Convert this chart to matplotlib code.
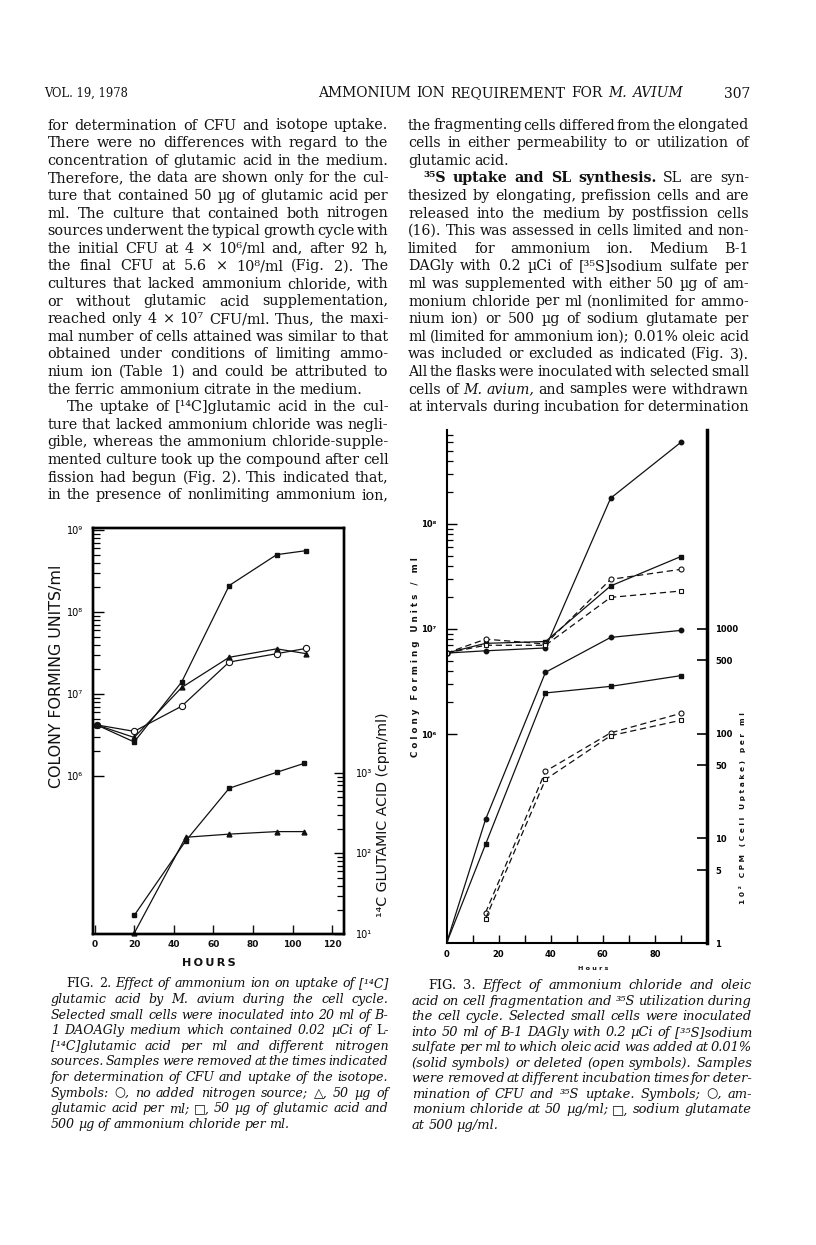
import matplotlib
matplotlib.use("Agg")
import matplotlib.pyplot as plt
from matplotlib.ticker import NullFormatter

plt.rcParams['font.family'] = ['DejaVu Serif', 'DejaVu Sans']
INK = '#111111'
W, H = 816, 1245

# Fig. 2 values
f2_cfu_hours = [1, 20, 44, 68, 92, 107]
f2_cfu_none = [4.2e6, 3.5e6, 7.1e6, 2.45e7, 3.1e7, 3.6e7]    # open circles
f2_cfu_glu = [4.2e6, 2.95e6, 1.2e7, 2.8e7, 3.55e7, 3.1e7]    # triangles
f2_cfu_both = [4.2e6, 2.6e6, 1.4e7, 2.1e8, 5.0e8, 5.6e8]     # squares
f2_upt_hours = [20, 46, 68, 92, 106]
f2_upt_glu = [10.2, 159, 174, 187, 187]
f2_upt_both = [17, 143, 646, 1020, 1320]
f2_xticks = [0, 20, 40, 60, 80, 100, 120]

# Fig. 3 values
f3_hours = [0, 15, 38, 63, 90]
f3_cfu_nh4_ol = [5.9e6, 6.2e6, 6.6e6, 1.76e8, 6.0e8]
f3_cfu_glu_ol = [5.9e6, 7.3e6, 7.6e6, 2.57e7, 4.9e7]
f3_cfu_nh4 = [5.9e6, 8.0e6, 7.2e6, 2.97e7, 3.7e7]
f3_cfu_glu = [5.9e6, 7.0e6, 7.0e6, 2.0e7, 2.3e7]
f3_upt_nh4_ol = [1, 15.2, 384, 826, 964]
f3_upt_glu_ol = [1, 8.8, 244, 282, 357]
f3_open_hours = [15, 38, 63, 90]
f3_upt_nh4 = [1.96, 43.7, 101.6, 156]
f3_upt_glu = [1.72, 36.5, 95.5, 134]
f3_rticks = [1, 5, 10, 50, 100, 500, 1000]

# page text: "~" flips italic, "^" makes bold
left_col = [
    "for determination of CFU and isotope uptake.",
    "There were no differences with regard to the",
    "concentration of glutamic acid in the medium.",
    "Therefore, the data are shown only for the cul-",
    "ture that contained 50 µg of glutamic acid per",
    "ml. The culture that contained both nitrogen",
    "sources underwent the typical growth cycle with",
    "the initial CFU at 4 × 10⁶/ml and, after 92 h,",
    "the final CFU at 5.6 × 10⁸/ml (Fig. 2). The",
    "cultures that lacked ammonium chloride, with",
    "or without glutamic acid supplementation,",
    "reached only 4 × 10⁷ CFU/ml. Thus, the maxi-",
    "mal number of cells attained was similar to that",
    "obtained under conditions of limiting ammo-",
    "nium ion (Table 1) and could be attributed to",
    "the ferric ammonium citrate in the medium.",
    "The uptake of [¹⁴C]glutamic acid in the cul-",
    "ture that lacked ammonium chloride was negli-",
    "gible, whereas the ammonium chloride-supple-",
    "mented culture took up the compound after cell",
    "fission had begun (Fig. 2). This indicated that,",
    "in the presence of nonlimiting ammonium ion,",
]
left_last = {15}
left_indent = {16}

right_col = [
    "the fragmenting cells differed from the elongated",
    "cells in either permeability to or utilization of",
    "glutamic acid.",
    "^³⁵S ^uptake ^and ^SL ^synthesis. SL are syn-",
    "thesized by elongating, prefission cells and are",
    "released into the medium by postfission cells",
    "(16). This was assessed in cells limited and non-",
    "limited for ammonium ion. Medium B-1",
    "DAGly with 0.2 µCi of [³⁵S]sodium sulfate per",
    "ml was supplemented with either 50 µg of am-",
    "monium chloride per ml (nonlimited for ammo-",
    "nium ion) or 500 µg of sodium glutamate per",
    "ml (limited for ammonium ion); 0.01% oleic acid",
    "was included or excluded as indicated (Fig. 3).",
    "All the flasks were inoculated with selected small",
    "cells of ~M. ~avium, and samples were withdrawn",
    "at intervals during incubation for determination",
]
right_last = {2}
right_indent = {3}

cap2 = [
    "~FIG. ~2. Effect of ammonium ion on uptake of [¹⁴C]",
    "glutamic acid by M. avium during the cell cycle.",
    "Selected small cells were inoculated into 20 ml of B-",
    "1 DAOAGly medium which contained 0.02 µCi of ~L-",
    "[¹⁴C]glutamic acid per ml and different nitrogen",
    "sources. Samples were removed at the times indicated",
    "for determination of CFU and uptake of the isotope.",
    "Symbols: ○, no added nitrogen source; △, 50 µg of",
    "glutamic acid per ml; □, 50 µg of glutamic acid and",
    "500 µg of ammonium chloride per ml.",
]
cap3 = [
    "~FIG. ~3. Effect of ammonium chloride and oleic",
    "acid on cell fragmentation and ³⁵S utilization during",
    "the cell cycle. Selected small cells were inoculated",
    "into 50 ml of B-1 DAGly with 0.2 µCi of [³⁵S]sodium",
    "sulfate per ml to which oleic acid was added at 0.01%",
    "(solid symbols) or deleted (open symbols). Samples",
    "were removed at different incubation times for deter-",
    "mination of CFU and ³⁵S uptake. Symbols; ○, am-",
    "monium chloride at 50 µg/ml; □, sodium glutamate",
    "at 500 µg/ml.",
]

fig = plt.figure(figsize=(W / 100, H / 100), dpi=100)
fig.patch.set_facecolor('white')
rend = fig.canvas.get_renderer()


def tokens(line, italic):
    out = []
    for w in line.split(' '):
        it, bd = italic, False
        while w[:1] in ('~', '^'):
            if w[0] == '~':
                it = not it
            else:
                bd = True
            w = w[1:]
        out.append((w, it, bd))
    return out


def make_words(toks, y, size):
    objs = [fig.text(0, 1 - y / H, w, fontsize=size, color=INK,
                     style='italic' if it else 'normal',
                     weight='bold' if bd else 'normal', va='baseline', ha='left')
            for w, it, bd in toks]
    return objs, [t.get_window_extent(rend).width for t in objs]


def block(lines, x0s, x1, ys, size, italic=False, last=(), min_gap=0.5):
    # one font size for the whole block: the largest that lets every line fit
    best = size
    for line, x0, y in zip(lines, x0s, ys):
        objs, ws = make_words(tokens(line, italic), y, size)
        for t in objs:
            t.remove()
        space = size * 100 / 72 * 0.27
        need = sum(ws) + (len(ws) - 1) * space * min_gap
        best = min(best, size * (x1 - x0) / need)
    for i, (line, x0, y) in enumerate(zip(lines, x0s, ys)):
        objs, ws = make_words(tokens(line, italic), y, best)
        gap = best * 100 / 72 * 0.27
        if i not in last and len(objs) > 1:
            gap = (x1 - x0 - sum(ws)) / (len(objs) - 1)
        x = x0
        for t, w in zip(objs, ws):
            t.set_x(x / W)
            x += w + gap


def fit_text(t, target, vertical=False):
    bb = t.get_window_extent(rend)
    cur = bb.height if vertical else bb.width
    t.set_fontsize(t.get_fontsize() * target / cur)


# header
fig.text(44 / W, 1 - 97 / H, "VOL. 19, 1978", fontsize=8.3, color=INK, va='baseline')
block(["AMMONIUM ION REQUIREMENT FOR ~M. ~AVIUM"], [318], 683, [97], 10)
fig.text(724 / W, 1 - 97.5 / H, "307", fontsize=10, color=INK, va='baseline')

# body columns
block(left_col, [66.5 if i in left_indent else 47.5 for i in range(len(left_col))], 388.5,
      [125 + 17.6 * i + 4.5 for i in range(len(left_col))], 10.6, last=left_last)
block(right_col, [423 if i in right_indent else 408 for i in range(len(right_col))], 749,
      [125 + 17.6 * i + 4.5 for i in range(len(right_col))], 10.6, last=right_last)

# captions
block(cap2, [66.7] + [50.7] * (len(cap2) - 1), 388.3,
      [983.3 + 15.63 * i + 4 for i in range(len(cap2))], 9.5, italic=True, last={len(cap2) - 1})
block(cap3, [428] + [411.7] * (len(cap3) - 1), 752,
      [985 + 15.56 * i + 4 for i in range(len(cap3))], 9.5, italic=True, last={len(cap3) - 1})

# ---------------- Fig. 2 ----------------
lw_d = 0.9
ax = fig.add_axes([93 / W, 1 - 934 / H, 251 / W, 406 / H])
ax.set_xlim(-0.8, 126)
ax.set_yscale('log')
ax.set_ylim(10 ** 4.073, 10 ** 9.024)
ax.plot(f2_cfu_hours, f2_cfu_none, color=INK, lw=lw_d, marker='o', ms=4.5, mfc='white', mew=0.8)
ax.plot(f2_cfu_hours, f2_cfu_glu, color=INK, lw=lw_d, marker='^', ms=3.5, mfc=INK)
ax.plot(f2_cfu_hours, f2_cfu_both, color=INK, lw=lw_d, marker='s', ms=3.5, mfc=INK)
for s in ax.spines.values():
    s.set_linewidth(1.7)
ax.set_xticks(f2_xticks, [str(v) for v in f2_xticks], fontfamily='DejaVu Sans',
              fontweight='bold', fontsize=6.5)
ax.tick_params(axis='x', direction='in', length=6.5, width=1, pad=4, colors=INK)
ax.set_yticks([1e6, 1e7, 1e8, 1e9], ['10⁶', '10⁷', '10⁸', '10⁹'], fontfamily='DejaVu Sans', fontsize=7)
ax.set_yticks([k * 10 ** e for e in (6, 7, 8) for k in range(2, 10)], minor=True)
ax.yaxis.set_minor_formatter(NullFormatter())
ax.tick_params(axis='y', which='major', direction='in', length=8, width=1, pad=7)
ax.tick_params(axis='y', which='minor', direction='in', length=5, width=0.9)

ar = ax.twinx()
ar.set_yscale('log')
ar.set_ylim(10, 10 ** 6.043)
ar.plot(f2_upt_hours, f2_upt_glu, color=INK, lw=lw_d, marker='^', ms=3.5, mfc=INK, clip_on=False)
ar.plot(f2_upt_hours, f2_upt_both, color=INK, lw=lw_d, marker='s', ms=3.5, mfc=INK, clip_on=False)
for s in ar.spines.values():
    s.set_linewidth(1.7)
ar.set_yticks([10, 100, 1000], ['10¹', '10²', '10³'], fontfamily='DejaVu Sans', fontsize=7)
ar.set_yticks([k * 10 ** e for e in (1, 2) for k in range(2, 10)], minor=True)
ar.yaxis.set_minor_formatter(NullFormatter())
ar.tick_params(axis='y', which='major', direction='in', length=7, width=1, pad=8.5)
ar.tick_params(axis='y', which='minor', direction='in', length=5, width=0.9)

t = fig.text(57 / W, 1 - 676 / H, "COLONY FORMING UNITS/ml", rotation=90, ha='center', va='center',
             fontfamily='DejaVu Sans', fontsize=10, color=INK)
fit_text(t, 223, vertical=True)
t = fig.text(383 / W, 1 - 815 / H, "¹⁴C GLUTAMIC ACID (cpm/ml)", rotation=90, ha='center', va='center',
             fontfamily='DejaVu Sans', fontsize=9, color=INK)
fit_text(t, 204, vertical=True)
t = fig.text(209 / W, 1 - 963 / H, "H\u2009O\u2009U\u2009R\u2009S", ha='center', va='center',
             fontfamily='DejaVu Sans', fontweight='bold', fontsize=9, color=INK)
fit_text(t, 54)

# ---------------- Fig. 3 ----------------
dash = (0, (5, 3))
bx = fig.add_axes([446.5 / W, 1 - 943.3 / H, 260.5 / W, 513.3 / H])
bx.set_xlim(0, 100)
bx.set_yscale('log')
bx.set_ylim(10 ** 4.007, 10 ** 8.895)
bx.plot(f3_hours, f3_cfu_nh4_ol, color=INK, lw=lw_d, marker='o', ms=3.2, mfc=INK)
bx.plot(f3_hours, f3_cfu_glu_ol, color=INK, lw=lw_d, marker='s', ms=3.2, mfc=INK)
bx.plot(f3_hours, f3_cfu_nh4, color=INK, lw=lw_d, ls=dash, marker='o', ms=3.6, mfc='white', mew=0.8)
bx.plot(f3_hours, f3_cfu_glu, color=INK, lw=lw_d, ls=dash, marker='s', ms=3.4, mfc='white', mew=0.8)
bx.spines['top'].set_visible(False)
bx.spines['right'].set_visible(False)
bx.spines['left'].set_linewidth(1.5)
bx.spines['bottom'].set_linewidth(1.5)
bx.set_xticks([0, 20, 40, 60, 80], ['0', '20', '40', '60', '80'], fontfamily='DejaVu Sans',
              fontweight='bold', fontsize=6)
bx.set_xticks([10, 30, 50, 70, 90], minor=True)
bx.tick_params(axis='x', which='both', direction='in', length=6, width=1, pad=5)
bx.set_yticks([1e6, 1e7, 1e8], ['10⁶', '10⁷', '10⁸'], fontfamily='DejaVu Sans',
              fontweight='bold', fontsize=6)
bx.set_yticks([k * 10 ** e for e in (6, 7) for k in range(2, 10)] + [k * 1e8 for k in range(2, 8)],
              minor=True)
bx.yaxis.set_minor_formatter(NullFormatter())
bx.tick_params(axis='y', which='major', direction='in', length=7, width=1, pad=7.5)
bx.tick_params(axis='y', which='minor', direction='in', length=4, width=0.9)

br = bx.twinx()
br.set_yscale('log')
br.set_ylim(10 ** 0.007, 10 ** 4.895)
br.plot(f3_hours, f3_upt_nh4_ol, color=INK, lw=lw_d, marker='o', ms=3.2, mfc=INK, markevery=[1, 2, 3, 4])
br.plot(f3_hours, f3_upt_glu_ol, color=INK, lw=lw_d, marker='s', ms=3.2, mfc=INK, markevery=[1, 2, 3, 4])
br.plot(f3_open_hours, f3_upt_nh4, color=INK, lw=lw_d, ls=dash, marker='o', ms=3.6, mfc='white', mew=0.8)
br.plot(f3_open_hours, f3_upt_glu, color=INK, lw=lw_d, ls=dash, marker='s', ms=3.4, mfc='white', mew=0.8)
for k in ('top', 'left', 'bottom'):
    br.spines[k].set_visible(False)
br.spines['right'].set_linewidth(2.5)
br.set_yticks(f3_rticks, [str(v) for v in f3_rticks], fontfamily='DejaVu Sans',
              fontweight='bold', fontsize=6)
br.yaxis.set_minor_locator(matplotlib.ticker.NullLocator())
br.tick_params(axis='y', which='major', direction='in', length=7.5, width=1.2, pad=6)

t = fig.text(415 / W, 1 - 657 / H, "C o l o n y   F o r m i n g   U n i t s   /   m l", rotation=90,
             ha='center', va='center', fontfamily='DejaVu Sans', fontweight='bold', fontsize=6, color=INK)
fit_text(t, 200, vertical=True)
t = fig.text(742 / W, 1 - 808 / H, "1 0 ²   C P M   ( C e l l   U p t a k e )   p e r   m l", rotation=90,
             ha='center', va='center', fontfamily='DejaVu Sans', fontweight='bold', fontsize=6, color=INK)
fit_text(t, 189, vertical=True)
t = fig.text(593 / W, 1 - 968 / H, "H o u r s", ha='center', va='center',
             fontfamily='DejaVu Sans', fontweight='bold', fontsize=5.5, color=INK)
fit_text(t, 30)

fig.savefig("out.png", dpi=100)
